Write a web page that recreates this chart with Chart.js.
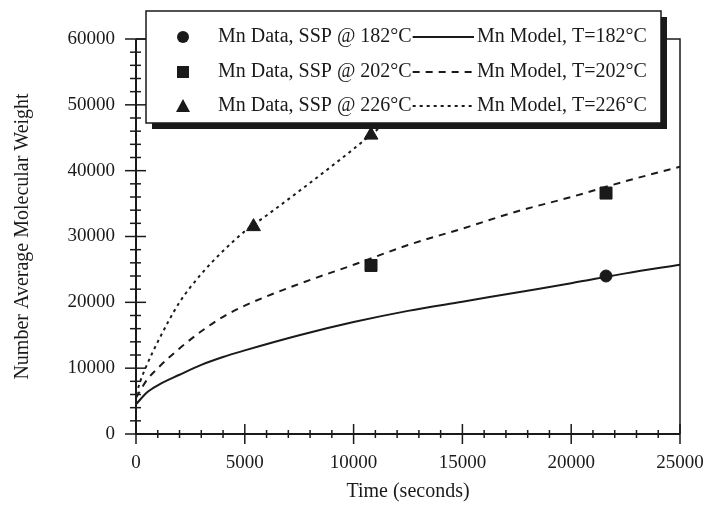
<!DOCTYPE html>
<html>
<head>
<meta charset="utf-8">
<script src="https://cdn.jsdelivr.net/npm/chart.js@4/dist/chart.umd.min.js"></script>
<style>
  html, body { margin: 0; padding: 0; background: #fff; }
</style>
</head>
<body>
<canvas id="canvas" width="706" height="506"></canvas>
<script>
// model curves
var modelTime182 = [0, 500, 1000, 2000, 3000, 4000, 5000, 7500, 10000, 12500, 15000, 17500, 20000, 22500, 25000];
var model182     = [4500, 6300, 7400, 9000, 10500, 11700, 12700, 15000, 17000, 18700, 20100, 21500, 22900, 24400, 25700];
var modelTime202 = [0, 500, 1000, 2000, 3000, 4000, 5000, 7500, 10000, 12500, 15000, 17500, 20000, 22500, 25000];
var model202     = [5500, 8200, 10000, 13000, 15600, 17800, 19500, 22800, 25700, 28700, 31200, 33800, 36000, 38400, 40600];
var modelTime226 = [0, 250, 500, 1000, 2000, 3000, 4000, 5000, 6000, 7500, 9000, 10000, 11000, 12500, 14000];
var model226     = [6000, 8500, 10500, 14000, 20000, 24300, 27800, 30800, 33200, 36900, 40700, 43300, 46000, 50000, 54000];

// measured data
var dataTime182 = [21600];
var data182     = [24000];
var dataTime202 = [10800, 21600];
var data202     = [25600, 36600];
var dataTime226 = [5400, 10800];
var data226     = [31500, 45400];

var legendData  = ['Mn Data, SSP @ 182°C', 'Mn Data, SSP @ 202°C', 'Mn Data, SSP @ 226°C'];
var legendModel = ['Mn Model, T=182°C', 'Mn Model, T=202°C', 'Mn Model, T=226°C'];

var ink = '#1a1a1a';
var serif = '"Liberation Serif", "DejaVu Serif", serif';

function toPoints( xs, ys ){
  var pts = [];
  for( var i = 0; i < xs.length; i++ ){
    pts.push({ x: xs[i], y: ys[i] });
  }
  return pts;
}

function modelSet( xs, ys, dash ){
  return {
    data: toPoints(xs, ys),
    showLine: true,
    borderColor: ink,
    borderWidth: 2,
    borderDash: dash,
    pointRadius: 0,
    cubicInterpolationMode: 'monotone',
    fill: false
  };
}

function dataSet( xs, ys, style, r ){
  return {
    data: toPoints(xs, ys),
    showLine: false,
    pointStyle: style,
    pointRadius: r,
    pointBackgroundColor: ink,
    pointBorderColor: ink,
    pointBorderWidth: 1
  };
}

// frame, crossing ticks and the boxed legend
var decorations = {
  id: 'decorations',
  afterDraw: function(chart){
    var ctx = chart.ctx;
    var xs = chart.scales.x, ys = chart.scales.y;
    var a = chart.chartArea;
    ctx.save();
    ctx.strokeStyle = ink;

    // frame
    ctx.lineWidth = 1.5;
    ctx.beginPath();
    ctx.moveTo(a.left, a.top);
    ctx.lineTo(a.right, a.top);
    ctx.lineTo(a.right, a.bottom);
    ctx.stroke();

    // axes
    ctx.lineWidth = 2;
    ctx.beginPath();
    ctx.moveTo(a.left, a.top);
    ctx.lineTo(a.left, a.bottom);
    ctx.lineTo(a.right, a.bottom);
    ctx.stroke();

    // x ticks
    ctx.lineWidth = 1.5;
    for( var t = 0; t <= 25000; t += 1000 ){
      var px = xs.getPixelForValue(t);
      var len = (t % 5000 == 0) ? 10 : 4;
      ctx.beginPath();
      ctx.moveTo(px, a.bottom - len);
      ctx.lineTo(px, a.bottom + len);
      ctx.stroke();
    }
    // y ticks
    for( var v = 0; v <= 60000; v += 2000 ){
      var py = ys.getPixelForValue(v);
      var l2 = (v % 10000 == 0) ? 10 : 5;
      ctx.beginPath();
      ctx.moveTo(a.left - l2 - 1, py);
      ctx.lineTo(a.left + l2, py);
      ctx.stroke();
    }

    // legend box with shadow
    var bx = 146, by = 11, bw = 515, bh = 112;
    ctx.fillStyle = ink;
    ctx.fillRect(bx + 6, by + 6, bw, bh);
    ctx.fillStyle = '#fff';
    ctx.fillRect(bx, by, bw, bh);
    ctx.lineWidth = 1.5;
    ctx.strokeRect(bx, by, bw, bh);

    ctx.font = '20px ' + serif;
    ctx.textBaseline = 'middle';
    ctx.textAlign = 'left';
    var rows = [37, 72, 106];
    var dashes = [[], [7, 6], [3, 4]];
    for( var i = 0; i < 3; i++ ){
      var ry = rows[i];
      ctx.fillStyle = ink;
      ctx.beginPath();
      if( i == 0 ){
        ctx.arc(183, ry, 6, 0, Math.PI * 2);
      } else if( i == 1 ){
        ctx.rect(177, ry - 6, 12, 12);
      } else {
        ctx.moveTo(183, ry - 7);
        ctx.lineTo(190, ry + 6);
        ctx.lineTo(176, ry + 6);
        ctx.closePath();
      }
      ctx.fill();

      ctx.fillText(legendData[i], 218, ry);
      var endX = 218 + ctx.measureText(legendData[i]).width;
      ctx.fillText(legendModel[i], 477, ry);

      ctx.lineWidth = 2;
      ctx.setLineDash(dashes[i]);
      ctx.beginPath();
      ctx.moveTo(endX + 1, ry);
      ctx.lineTo(474, ry);
      ctx.stroke();
      ctx.setLineDash([]);
    }
    ctx.restore();
  }
};

var ctx = document.getElementById('canvas').getContext('2d');
var chart = new Chart(ctx, {
  type: 'scatter',
  data: {
    datasets: [
      modelSet(modelTime182, model182, []),
      modelSet(modelTime202, model202, [7, 6]),
      modelSet(modelTime226, model226, [3, 4]),
      dataSet(dataTime182, data182, 'circle', 6),
      dataSet(dataTime202, data202, 'rect', 8.5),
      dataSet(dataTime226, data226, 'triangle', 8)
    ]
  },
  options: {
    responsive: false,
    animation: false,
    events: [],
    layout: { padding: { top: 39, right: 26, left: 0, bottom: 0 } },
    plugins: {
      legend: { display: false },
      tooltip: { enabled: false }
    },
    scales: {
      x: {
        type: 'linear',
        min: 0,
        max: 25000,
        grid: { display: false },
        border: { display: false },
        ticks: {
          stepSize: 5000,
          padding: 10,
          color: ink,
          maxRotation: 0,
          font: { family: serif, size: 19 },
          callback: function(v){ return String(v); }
        },
        title: {
          display: true,
          text: 'Time (seconds)',
          color: ink,
          font: { family: serif, size: 20 },
          padding: { top: 0, bottom: 2 }
        },
        afterFit: function(s){
          s.height = 72;
          s.paddingRight = 0;
          s.paddingLeft = 0;
        }
      },
      y: {
        type: 'linear',
        min: 0,
        max: 60000,
        grid: { display: false },
        border: { display: false },
        ticks: {
          stepSize: 10000,
          padding: 13,
          color: ink,
          font: { family: serif, size: 19 },
          callback: function(v){ return String(v); }
        },
        title: {
          display: true,
          text: 'Number Average Molecular Weight',
          color: ink,
          font: { family: serif, size: 20 },
          padding: { top: 11, bottom: 0 }
        },
        afterFit: function(s){ s.width = 136; }
      }
    }
  },
  plugins: [decorations]
});
</script>
</body>
</html>
